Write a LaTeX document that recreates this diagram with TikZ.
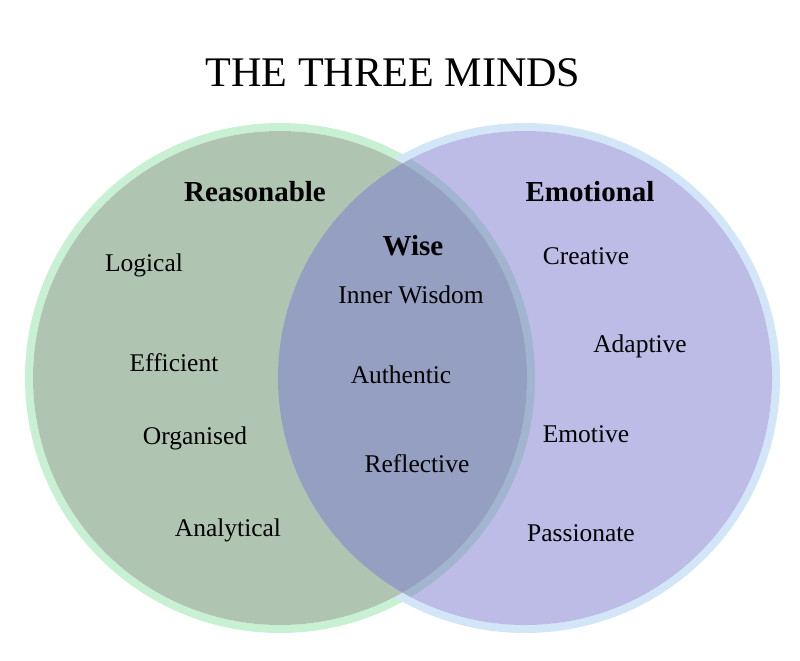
\documentclass[tikz,border=0pt]{standalone}
\usepackage{fontspec}
\setmainfont{Liberation Serif}
\definecolor{reasonfill}{RGB}{176,196,178}
\definecolor{emofill}{RGB}{126,126,207}
\definecolor{reasonglow}{RGB}{200,240,210}
\definecolor{emoglow}{RGB}{210,230,248}
\begin{document}
\begin{tikzpicture}
  [x=0.02cm, y=-0.02cm,
   word/.style = {font=\fontsize{14.5}{16}\selectfont, text=black},
   head/.style = {font=\fontsize{16.5}{19}\selectfont\bfseries, text=black}]
  \useasboundingbox (0,0) rectangle (800,660);
  % glow rings
  \draw[reasonglow, line width=0.16cm] (280,378) circle [radius=251];
  \draw[emoglow, line width=0.16cm] (525,378) circle [radius=251];
  % circles
  \fill[reasonfill] (280,378) circle [radius=247];
  \fill[emofill, fill opacity=0.52] (525,378) circle [radius=247];
  % title
  \node[font=\fontsize{24}{28}\selectfont] (title) at (393,73) {THE THREE MINDS};
  % headings
  \node[head] (reason) at (255,192) {Reasonable};
  \node[head] (wise) at (413,246) {Wise};
  \node[head] (emo) at (590,192) {Emotional};
  % reasonable mind
  \node[word] (logical) at (144,265) {Logical};
  \node[word] (efficient) at (174,363) {Efficient};
  \node[word] (organised) at (195,438) {Organised};
  \node[word] (analytical) at (228,530) {Analytical};
  % wise mind
  \node[word] (inner) at (411,295) {Inner Wisdom};
  \node[word] (authentic) at (401,375) {Authentic};
  \node[word] (reflective) at (417,464) {Reflective};
  % emotional mind
  \node[word] (creative) at (586,256) {Creative};
  \node[word] (adaptive) at (640,346) {Adaptive};
  \node[word] (emotive) at (586,434) {Emotive};
  \node[word] (passionate) at (581,533) {Passionate};
\end{tikzpicture}
\end{document}
